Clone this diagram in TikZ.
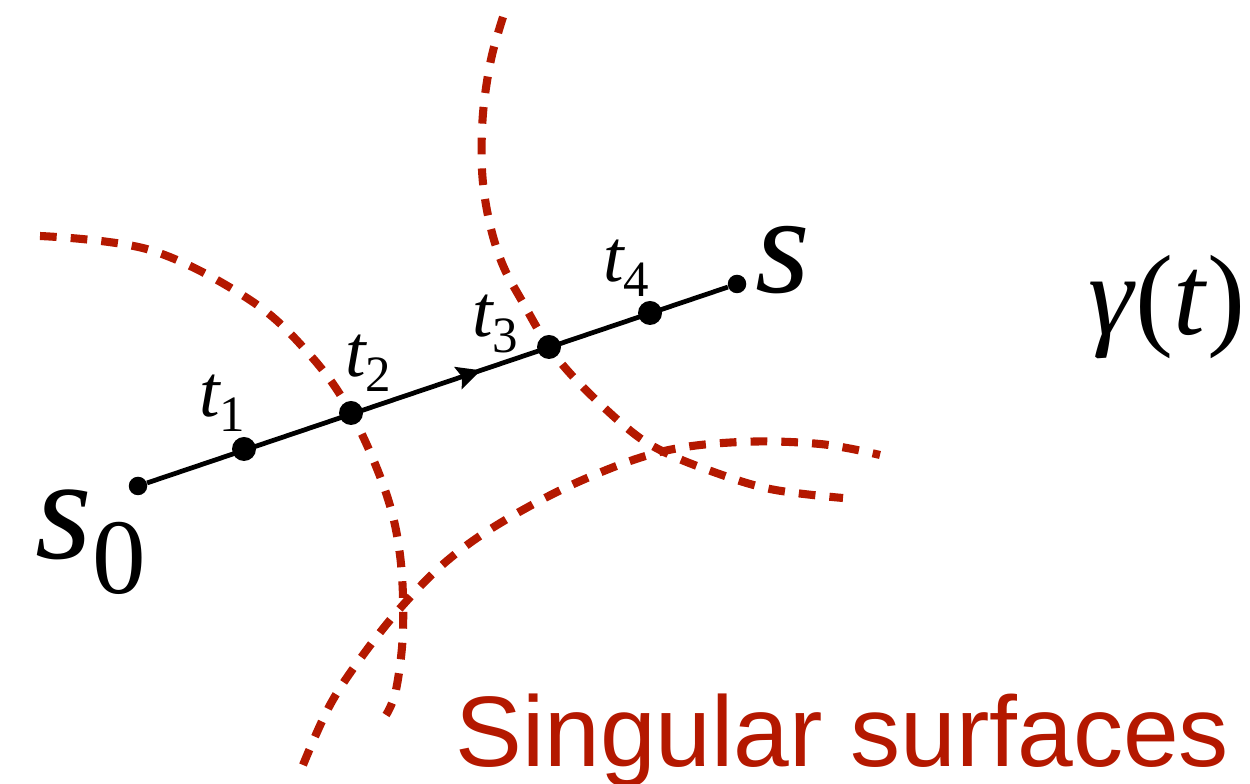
\documentclass[tikz,border=0pt]{standalone}
\usepackage{fontspec}
\setmainfont{Liberation Serif}
\newfontfamily\labelsans{Liberation Sans}
\usepackage{tikz}
\usetikzlibrary{arrows.meta, decorations.markings}
\definecolor{surfred}{RGB}{180,24,0}

% subscripted labels
\newcommand{\tlab}[1]{{\fontsize{42}{42}\selectfont\itshape t}{\fontsize{29}{29}\selectfont\raisebox{-0.3em}{#1}}}

\begin{document}
\begin{tikzpicture}[
        % Stili per i punti
        bigdot/.style={circle, fill=black, inner sep=0pt, minimum size=0.48cm},
        enddot/.style={circle, fill=black, inner sep=0pt, minimum size=0.37cm},
        % Stili per le curve e le etichette
        surface/.style={draw=surfred, line width=4.6pt, dash pattern=on 9.5pt off 8pt},
        path/.style={line width=2.7pt, draw=black},
        tlabel/.style={inner sep=0pt, text=black}
    ]
    \useasboundingbox (0,0) rectangle (25,15.68);

    % --- SINGULAR SURFACES ---
    \draw[surface] plot[smooth, tension=0.6] coordinates {
        (0.8,10.96) (3.0,10.68) (5.0,9.68) (6.2,8.58) (7.02,7.42)
        (7.7,5.88) (8.0,4.58) (8.06,3.08) (7.92,1.88) (7.72,1.38)};
    \draw[surface] plot[smooth, tension=0.6] coordinates {
        (10.06,15.34) (9.84,14.58) (9.70,13.78) (9.64,13.08) (9.64,12.28)
        (9.72,11.58) (9.88,10.88) (10.10,10.28) (10.44,9.66) (10.98,8.74)
        (11.60,8.00) (12.54,7.12) (13.20,6.68) (14.16,6.28) (15.40,5.90) (16.86,5.72)};
    \draw[surface] plot[smooth, tension=0.6] coordinates {
        (6.06,0.38) (6.60,1.58) (7.26,2.58) (8.06,3.58) (8.96,4.48)
        (10.04,5.24) (11.56,6.04) (13.20,6.64) (14.80,6.84) (16.40,6.80) (17.60,6.58)};

    % --- PATH ---
    \node[enddot] (s0) at (2.76,5.96) {};
    \node[enddot] (S) at (14.74,10.00) {};
    \draw[path, postaction={decorate}, decoration={markings,
        mark=at position 0.575 with {\arrow{Stealth[length=0.48cm, width=0.46cm, inset=0.08cm]}}}]
        (s0) -- (S);
    \foreach \n/\x/\y in {1/4.88/6.70, 2/7.02/7.42, 3/10.98/8.74, 4/13.00/9.42} {
        \node[bigdot] (t\n) at (\x,\y) {};
    }

    % --- LABELS ---
    \foreach \n/\x/\y in {1/4.44/7.62, 2/7.36/8.42, 3/9.90/9.20, 4/12.52/10.32} {
        \node[tlabel] (lt\n) at (\x,\y) {\tlab{\n}};
    }
    \node[tlabel] (ls0) at (1.82,4.84) {{\fontsize{83}{83}\selectfont\itshape s}{\fontsize{61}{61}\selectfont\raisebox{-0.33em}{0}}};
    \node[tlabel] (lS) at (15.66,10.48) {\fontsize{80}{80}\selectfont\itshape s};
    \node[tlabel] (gamma) at (23.34,9.54) {\fontsize{65}{65}\selectfont\textit{γ}(\textit{t})};
    \node[tlabel, anchor=base west, text=surfred] (sing) at (9.1,0.34) {\labelsans\fontsize{57}{57}\selectfont Singular surfaces};

\end{tikzpicture}
\end{document}
